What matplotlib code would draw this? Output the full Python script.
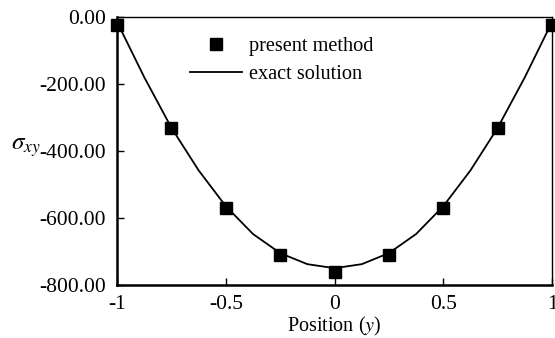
import matplotlib
matplotlib.use("Agg")
import matplotlib.pyplot as plt

# data
pos_method = [-1.0, -0.75, -0.5, -0.25, 0.0, 0.25, 0.5, 0.75, 1.0]
sig_method = [-24, -331, -570, -710, -761, -710, -570, -331, -24]

pos_exact = [-1.0, -0.875, -0.75, -0.625, -0.5, -0.375, -0.25, -0.125, 0.0,
             0.125, 0.25, 0.375, 0.5, 0.625, 0.75, 0.875, 1.0]
sig_exact = [-15, -180, -331, -458, -565, -648, -705, -738, -750,
             -738, -705, -648, -565, -458, -331, -180, -15]

xticks = [-1, -0.5, 0, 0.5, 1]
xtick_labels = ["-1", "-0.5", "0", "0.5", "1"]
yticks = [0, -200, -400, -600, -800]
ytick_labels = ["0.00", "-200.00", "-400.00", "-600.00", "-800.00"]

plt.rcParams['font.family'] = ['Liberation Serif', 'DejaVu Serif']
plt.rcParams['mathtext.fontset'] = 'stix'

fig = plt.figure(figsize=(5.55, 3.38), dpi=100)
ax = fig.add_axes([0.211, 0.157, 0.7836, 0.7927])

ax.plot(pos_exact, sig_exact, color='black', lw=1.3, label='exact solution', clip_on=False, zorder=2)
ax.plot(pos_method, sig_method, linestyle='none', marker='s', ms=9, color='black',
        label='present method', clip_on=False, zorder=3)

ax.set_xlim(-1, 1)
ax.set_ylim(-800, 0)
ax.set_xticks(xticks)
ax.set_xticklabels(xtick_labels)
ax.set_yticks(yticks)
ax.set_yticklabels(ytick_labels)
ax.tick_params(direction='in', length=5, width=1, labelsize=15.5)
ax.tick_params(axis='y', pad=8)
ax.tick_params(axis='x', pad=7)
for s in ['left', 'bottom']:
    ax.spines[s].set_linewidth(1.8)
for s in ['top', 'right']:
    ax.spines[s].set_linewidth(1.0)

ax.set_xlabel('Position ($\\mathit{y}$)', fontsize=14.5, labelpad=1)
ax.set_ylabel('$\\sigma_{xy}$', fontsize=18, rotation=0)
ax.yaxis.set_label_coords(-0.21, 0.47)

handles, labels = ax.get_legend_handles_labels()
leg = ax.legend(handles[::-1], labels[::-1], loc='upper left', bbox_to_anchor=(0.125, 0.995),
                frameon=False, fontsize=14.6, handlelength=2.6, handletextpad=0.3,
                labelspacing=0.45)

fig.savefig('out.png', dpi=100)
